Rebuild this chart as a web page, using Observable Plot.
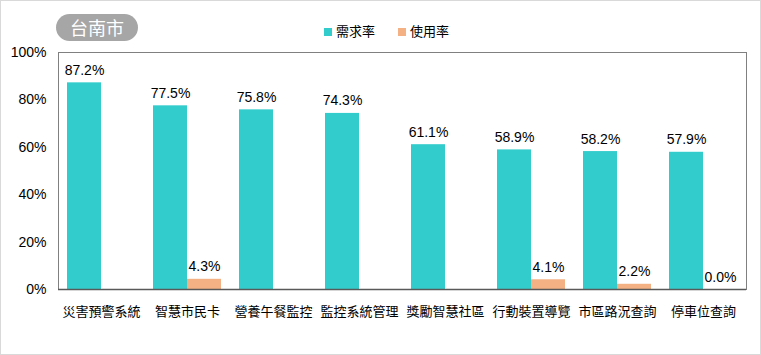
<!DOCTYPE html>
<html>
<head>
<meta charset="utf-8">
<script src="https://cdn.jsdelivr.net/npm/d3@7"></script>
<script src="https://cdn.jsdelivr.net/npm/@observablehq/plot@0.6"></script>
<style>
  html, body { margin: 0; padding: 0; background: #fff; }
  #wrap { position: relative; width: 759px; height: 353px; border: 1px solid #d9d9d9; overflow: hidden;
          font-family: "Liberation Sans", "Noto Sans CJK TC", sans-serif; color: #000; }
  #header { position: relative; height: 43px; }
  #badge { position: absolute; left: 55px; top: 13px; width: 82px; height: 27px; border-radius: 14px;
           background: #a6a6a6; color: #fff; font-size: 18px; line-height: 27px; text-align: center;
           font-family: "Noto Sans CJK TC", sans-serif; }
  .lg { position: absolute; top: 22px; font-size: 13px; line-height: 16px; font-family: "Noto Sans CJK TC", sans-serif; }
  .sw { display: inline-block; width: 8px; height: 8px; margin-right: 4px; vertical-align: 0px; }
  #chart svg { display: block; }
</style>
</head>
<body>
<div id="wrap">
  <div id="header">
    <div id="badge"></div>
    <div id="legend"></div>
  </div>
  <div id="chart"></div>
</div>
<script>
const title = "台南市";
const categories = ["災害預警系統", "智慧市民卡", "營養午餐監控", "監控系統管理", "獎勵智慧社區", "行動裝置導覽", "市區路況查詢", "停車位查詢"];
const seriesNames = ["需求率", "使用率"];
const seriesColors = ["#33cccc", "#f4b183"];
const demand = [87.2, 77.5, 75.8, 74.3, 61.1, 58.9, 58.2, 57.9];
const usage = [null, 4.3, null, null, null, 4.1, 2.2, 0.0];
const yTicks = [0, 20, 40, 60, 80, 100];

const rows = [];
categories.forEach((c, i) => {
  if (demand[i] != null) rows.push({category: c, series: seriesNames[0], value: demand[i]});
  if (usage[i] != null) rows.push({category: c, series: seriesNames[1], value: usage[i]});
});

document.getElementById("badge").textContent = title;
const legend = document.getElementById("legend");
const legendX = [323, 397];
seriesNames.forEach((s, i) => {
  const d = document.createElement("div");
  d.className = "lg";
  d.style.left = legendX[i] + "px";
  d.innerHTML = `<span class="sw" style="background:${seriesColors[i]}"></span>${s}`;
  legend.appendChild(d);
});

const chart = Plot.plot({
  width: 759,
  height: 310,
  marginTop: 8,
  marginBottom: 65,
  marginLeft: 55,
  marginRight: 13,
  style: {fontFamily: "'Liberation Sans','Noto Sans CJK TC',sans-serif", fontSize: "13px", color: "#000", background: "#fff"},
  fx: {domain: categories, padding: 0, label: null},
  x: {domain: seriesNames, axis: null, paddingInner: 0, paddingOuter: 0.25},
  y: {domain: [0, 100], label: null},
  color: {domain: seriesNames, range: seriesColors},
  marks: [
    Plot.barY(rows, {fx: "category", x: "series", y: "value", fill: "series"}),
    Plot.text(rows, {fx: "category", x: "series", y: "value", text: d => d.value.toFixed(1) + "%",
      lineAnchor: "bottom", dy: -8, fontSize: 14, fill: "#000"}),
    Plot.frame({anchor: "top", stroke: "#808080"}),
    Plot.frame({anchor: "left", facetAnchor: "left", stroke: "#808080"}),
    Plot.frame({anchor: "right", facetAnchor: "right", stroke: "#808080"}),
    Plot.ruleY([0], {stroke: "#595959", strokeWidth: 1.5}),
    Plot.axisY({ticks: yTicks, tickSize: 0, tickPadding: 12, tickFormat: d => d + "%", label: null, fontSize: 14}),
    Plot.axisFx({anchor: "bottom", tickSize: 0, tickPadding: 17, label: null, fontSize: 13,
      fontFamily: "'Noto Sans CJK TC',sans-serif"})
  ]
});
document.getElementById("chart").appendChild(chart);
</script>
</body>
</html>
